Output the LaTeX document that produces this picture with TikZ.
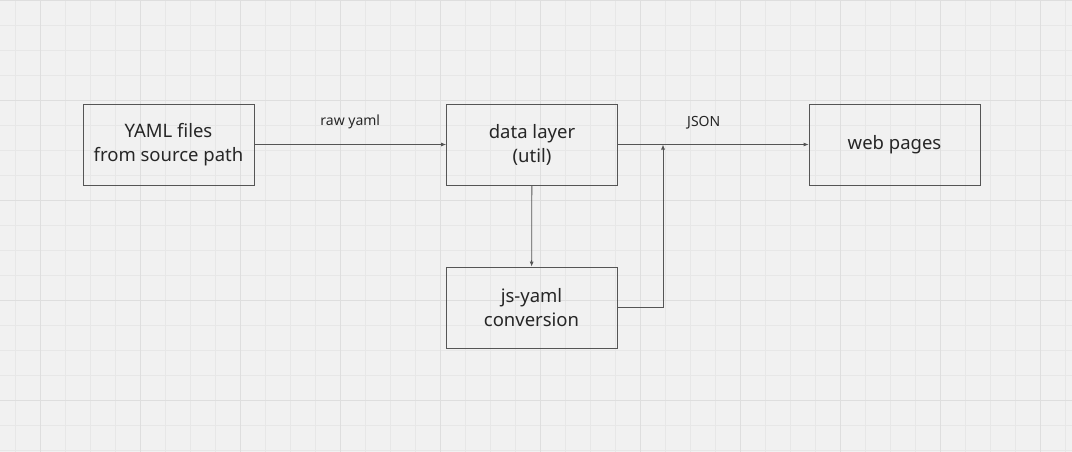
\documentclass[tikz,border=0pt]{standalone}
\usepackage{fontspec}
\setmainfont{Noto Sans}
\usetikzlibrary{arrows.meta}
\definecolor{bg}{HTML}{F1F1F1}
\definecolor{gmin}{HTML}{E7E7E7}
\definecolor{gmaj}{HTML}{DEDEDE}
\definecolor{ln}{HTML}{555555}
\begin{document}
\begin{tikzpicture}[x=1pt,y=-1pt,
 box/.style={draw=ln,line width=0.8pt,minimum width=171pt,minimum height=81pt,align=center,font=\fontsize{18.5}{24}\selectfont,text=black!85},
 lab/.style={font=\fontsize{14}{16}\selectfont,text=black!85},
 con/.style={draw=ln,line width=0.8pt,-{Latex[length=5pt,width=4pt]}}]
\fill[bg] (0,0) rectangle (1072,452);
\useasboundingbox (0,0) rectangle (1072,452);
\foreach \x in {15,40,...,1072} \draw[gmin,line width=0.6pt] (\x,0) -- (\x,452);
\foreach \y in {0,25,...,452} \draw[gmin,line width=0.6pt] (0,\y) -- (1072,\y);
\foreach \x in {40,140,...,1072} \draw[gmaj,line width=0.8pt] (\x,0) -- (\x,452);
\foreach \y in {0,100,...,452} \draw[gmaj,line width=0.8pt] (0,\y) -- (1072,\y);
\node[box] (yaml) at (168.5,144.5) {YAML files\\from source path};
\node[box] (data) at (532,144.5) {data layer\\(util)};
\node[box] (web) at (894.5,144.5) {web pages};
\node[box] (js) at (531.5,307.5) {js-yaml\\conversion};
\coordinate (j) at (663,144.5);
\draw[con] (yaml) -- node[lab,above=12pt]{raw yaml} (data);
\draw[con] (data) -- node[lab,pos=0.45,above=12pt]{JSON} (web);
\draw[con] (data) -- (js);
\draw[con] (js.east) -| (j);
\end{tikzpicture}
\end{document}
